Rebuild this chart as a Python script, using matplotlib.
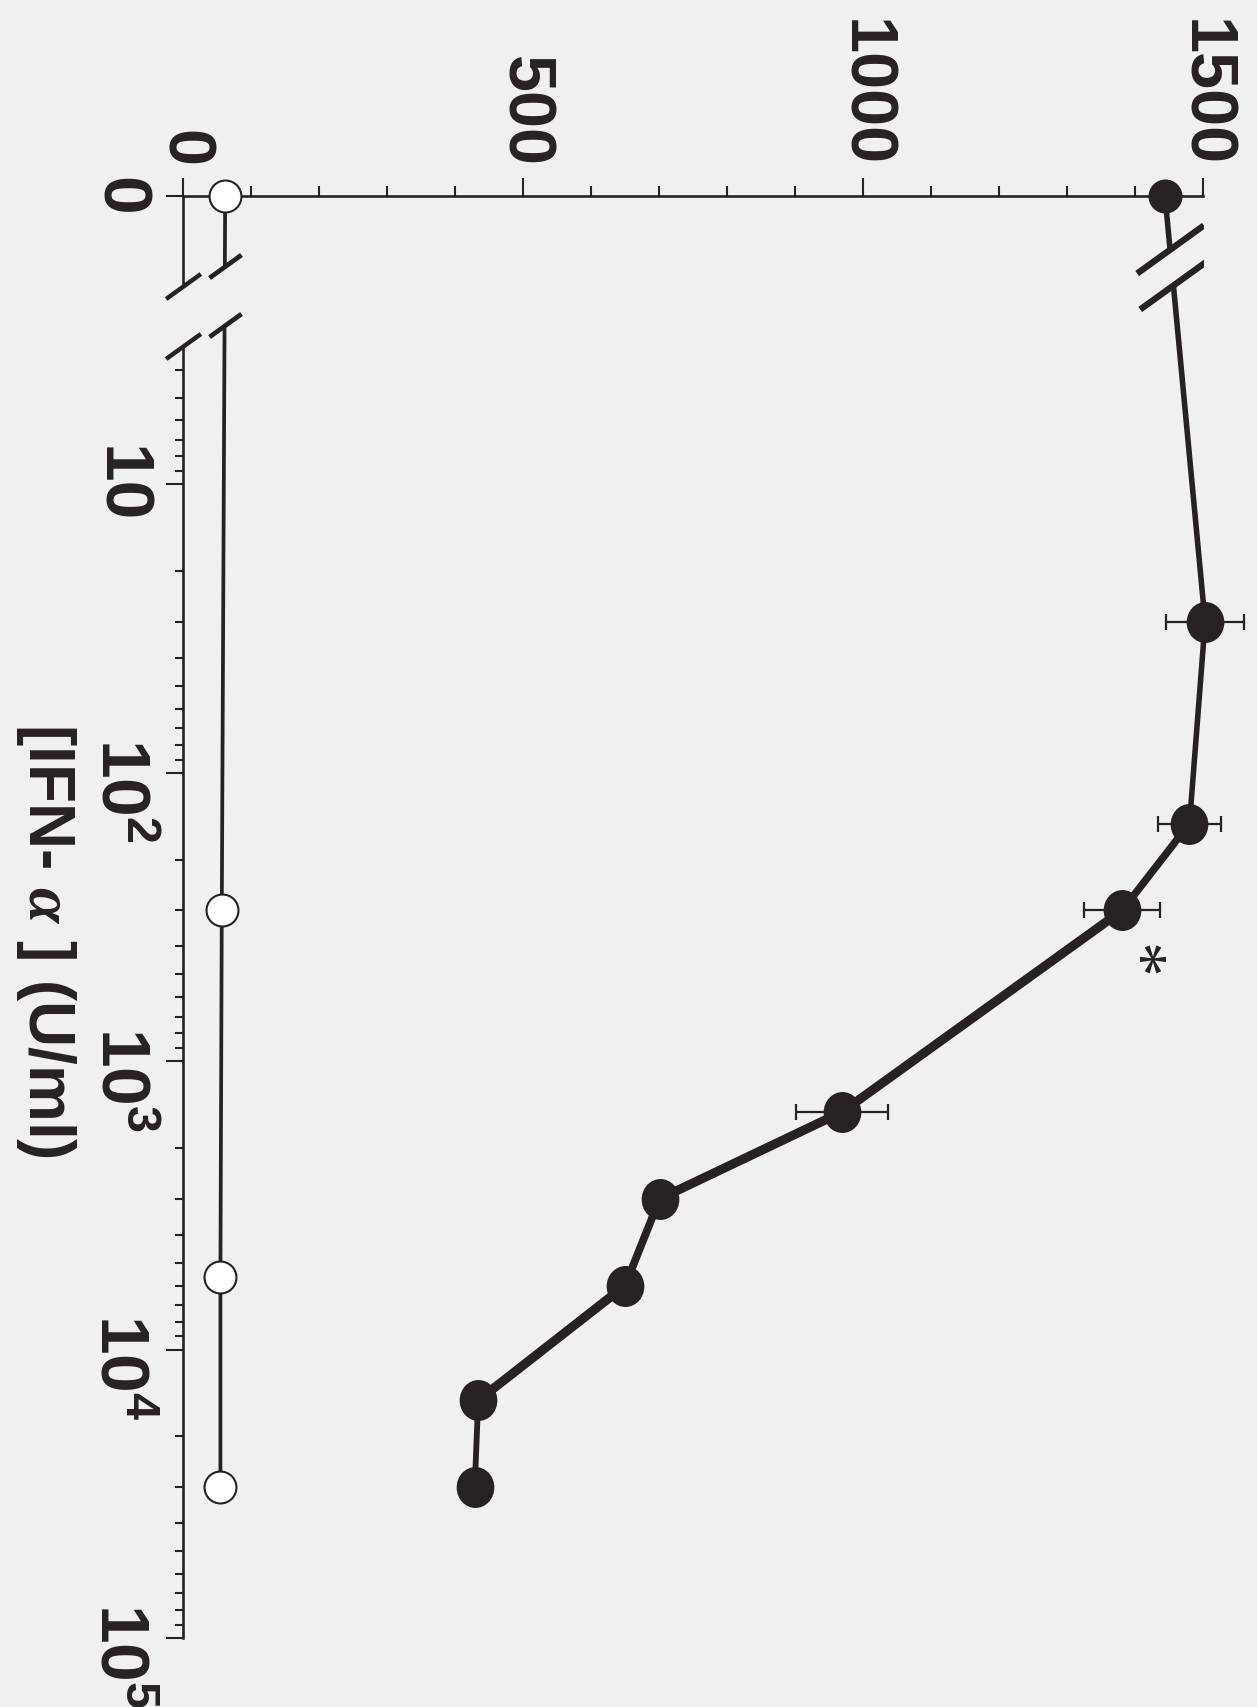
import numpy as np
import matplotlib.pyplot as plt
from matplotlib.path import Path
from matplotlib.transforms import Affine2D, ScaledTranslation

plt.rcParams['font.family'] = ['Liberation Sans', 'DejaVu Sans']
plt.rcParams['font.weight'] = 'bold'
plt.rcParams['mathtext.fontset'] = 'custom'
plt.rcParams['mathtext.rm'] = 'Liberation Sans:bold'
plt.rcParams['mathtext.bf'] = 'Liberation Sans:bold'
plt.rcParams['mathtext.it'] = 'Liberation Serif:italic'

BG = '#f0f0f3'
INK = '#272124'

# IFN-alpha dose (U/ml); the untreated "0" dose is drawn at 1 U/ml on the log axis
filled_dose = [1, 30, 150, 300, 1500, 3000, 6000, 15000, 30000]
filled_val = [1444, 1503, 1480, 1381, 969, 701, 650, 434, 429]
filled_err = [0, 57, 47, 56, 68, 0, 0, 0, 0]

open_dose = [1, 300, 5600, 30000]
open_val = [62, 57, 55, 55]

value_ticks = [0, 500, 1000, 1500]
value_labels = ['0', '500', '1000', '1500']
dose_ticks = [1, 10, 100, 1000, 10000, 100000]
dose_labels = ['0', '10', r'$\mathregular{10^{2}}$', r'$\mathregular{10^{3}}$',
               r'$\mathregular{10^{4}}$', r'$\mathregular{10^{5}}$']

# where the dose axis and the two curves are broken (U/ml)
axis_gap = (2.05, 3.31)
filled_gap = (1.53, 2.04)
open_gap = (1.75, 2.80)

# segment widths of the filled curve
filled_lw = [4.0, 4.0, 5.4, 6.6, 6.6, 5.6, 6.6, 4.2]

slash = Path([(-1, -0.72), (1, 0.72)])
dot = Path.unit_circle().transformed(Affine2D().scale(0.92, 1.0))


def gap_ends(vals, doses, gap):
    lg = np.log10(doses[:2])
    return np.interp(np.log10(gap), lg, vals[:2])


fig = plt.figure(figsize=(12.57, 17.07), dpi=100, facecolor=BG)
ax = fig.add_axes([0.1456, 0.0404, 0.8115, 0.8448])
ax.set_facecolor(BG)
ax.set_xlim(0, 1500)
ax.set_yscale('log')
ax.set_ylim(1e5, 1)

for s in ['right', 'bottom']:
    ax.spines[s].set_visible(False)
for s in ['top', 'left']:
    ax.spines[s].set_color(INK)
    ax.spines[s].set_linewidth(1.9)
ax.spines['left'].set_bounds(axis_gap[1], 1e5)
ax.plot([0, 0], [1, axis_gap[0]], color=INK, lw=1.9, clip_on=False,
        solid_capstyle='butt')
ax.plot([0, 0], axis_gap, ls='none', marker=slash, ms=25, mew=3.2,
        mec=INK, mfc='none', clip_on=False, zorder=5)

# value axis along the top
ax.xaxis.set_ticks_position('top')
ax.set_xticks(value_ticks)
ax.set_xticklabels(value_labels)
ax.set_xticks([v for v in range(0, 1501, 100) if v not in value_ticks], minor=True)
ax.tick_params(axis='x', which='major', length=13, width=1.5, pad=8,
               labelsize=48, labelrotation=-90, colors=INK)
ax.tick_params(axis='x', which='minor', length=7.5, width=1.5, colors=INK)

# dose axis down the left side
ax.set_yticks(dose_ticks)
ax.set_yticklabels(dose_labels)
minor = [k * 10 ** d for d in range(5) for k in range(2, 10)
         if k * 10 ** d > axis_gap[1]]
ax.set_yticks(minor, minor=True)
ax.yaxis.set_minor_formatter(plt.NullFormatter())
ax.tick_params(axis='y', which='major', length=12, width=1.5, pad=11,
               labelsize=50, labelrotation=-90, colors=INK)
ax.tick_params(axis='y', which='minor', length=6, width=1.5, colors=INK)
shift = ScaledTranslation(0, -13 / 72, fig.dpi_scale_trans)
for i, lab in enumerate(ax.get_yticklabels()):
    lab.set_va('center')
    if i >= 2:
        lab.set_transform(lab.get_transform() + shift)

# open circles
lo, hi = gap_ends(open_val, open_dose, open_gap)
ax.plot([open_val[0], lo], [open_dose[0], open_gap[0]], color=INK, lw=2.7,
        solid_capstyle='butt', zorder=3)
ax.plot([hi] + open_val[1:], [open_gap[1]] + open_dose[1:], color=INK, lw=2.7,
        solid_capstyle='butt', zorder=3)
ax.plot([lo, hi], open_gap, ls='none', marker=slash, ms=23, mew=3.4,
        mec=INK, mfc='none', zorder=5)
ax.plot(open_val, open_dose, ls='none', marker='o', ms=23, mfc='white',
        mec=INK, mew=1.5, zorder=6, clip_on=False)

# filled circles
lo, hi = gap_ends(filled_val, filled_dose, filled_gap)
ax.plot([filled_val[0], lo], [filled_dose[0], filled_gap[0]], color=INK,
        lw=filled_lw[0], solid_capstyle='butt', zorder=3)
ax.plot([hi, filled_val[1]], [filled_gap[1], filled_dose[1]], color=INK,
        lw=filled_lw[0], solid_capstyle='butt', zorder=3, clip_on=False)
for i in range(1, len(filled_val) - 1):
    ax.plot(filled_val[i:i + 2], filled_dose[i:i + 2], color=INK,
            lw=filled_lw[i], solid_capstyle='round', zorder=3, clip_on=False)
ax.plot([lo, hi], filled_gap, ls='none', marker=slash, ms=48, mew=4.6,
        mec=INK, mfc='none', zorder=5)

idx = [i for i, e in enumerate(filled_err) if e > 0]
eb = ax.errorbar([filled_val[i] for i in idx], [filled_dose[i] for i in idx],
                 xerr=[filled_err[i] for i in idx], fmt='none', ecolor=INK,
                 elinewidth=1.6, capsize=5.5, capthick=1.6, zorder=4)
for art in eb.lines[1] + eb.lines[2]:
    art.set_clip_on(False)
ax.plot(filled_val[:1], filled_dose[:1], ls='none', marker='o', ms=24.5,
        mfc=INK, mec=INK, mew=0, zorder=6, clip_on=False)
ax.plot(filled_val[1:], filled_dose[1:], ls='none', marker=dot, ms=29.5,
        mfc=INK, mec=INK, mew=0, zorder=6, clip_on=False)

ax.annotate('*', xy=(filled_val[3], filled_dose[3]), xytext=(7, -37),
            textcoords='offset points', fontsize=50, family='Liberation Serif',
            fontweight='normal', color=INK, ha='center', va='center',
            rotation=-90)

fig.text(46 / 1257, 1 - 941 / 1707, r'[IFN- $\alpha$ ] (U/ml)', rotation=-90,
         ha='center', va='center', fontsize=46, color=INK)

fig.savefig('out.png', dpi=100, facecolor=BG)
